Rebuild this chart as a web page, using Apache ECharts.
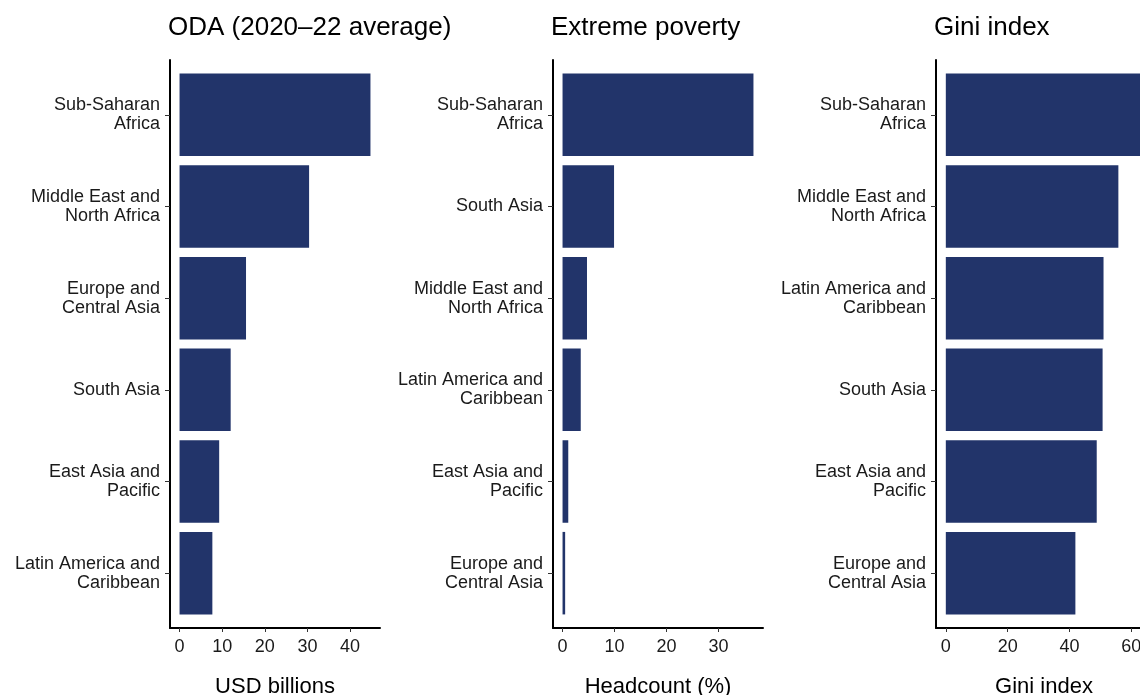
<!DOCTYPE html>
<html>
<head>
<meta charset="utf-8">
<script src="https://cdn.jsdelivr.net/npm/echarts@6/dist/echarts.min.js"></script>
<style>
  html, body { margin: 0; padding: 0; background: #fff; }
  #chart { width: 1140px; height: 695px; }
</style>
</head>
<body>
<div id="chart"></div>
<script>
// data, top to bottom
var odaRegions = ['Sub-Saharan\nAfrica', 'Middle East and\nNorth Africa', 'Europe and\nCentral Asia', 'South Asia', 'East Asia and\nPacific', 'Latin America and\nCaribbean'];
var odaValues = [44.8, 30.4, 15.6, 12.0, 9.3, 7.7];
var odaTicks = [0, 10, 20, 30, 40];

var povertyRegions = ['Sub-Saharan\nAfrica', 'South Asia', 'Middle East and\nNorth Africa', 'Latin America and\nCaribbean', 'East Asia and\nPacific', 'Europe and\nCentral Asia'];
var povertyValues = [36.7, 9.9, 4.7, 3.5, 1.1, 0.5];
var povertyTicks = [0, 10, 20, 30];

var giniRegions = ['Sub-Saharan\nAfrica', 'Middle East and\nNorth Africa', 'Latin America and\nCaribbean', 'South Asia', 'East Asia and\nPacific', 'Europe and\nCentral Asia'];
var giniValues = [63.5, 55.8, 51.0, 50.7, 48.8, 41.9];
var giniTicks = [0, 20, 40, 60];

var panels = [
    {title: 'ODA (2020\u201322 average)', name: 'USD billions', regions: odaRegions, values: odaValues, ticks: odaTicks, left: 170, width: 210},
    {title: 'Extreme poverty', name: 'Headcount (%)', regions: povertyRegions, values: povertyValues, ticks: povertyTicks, left: 553, width: 210},
    {title: 'Gini index', name: 'Gini index', regions: giniRegions, values: giniValues, ticks: giniTicks, left: 936, width: 216}
];

var font = "'Liberation Sans', Arial, Helvetica, sans-serif";
var barColor = '#22346a';

var option = {
    animation: false,
    backgroundColor: '#fff',
    textStyle: {fontFamily: font},
    title: [], grid: [], xAxis: [], yAxis: [], series: []
};

panels.forEach(function (p, i) {
    var max = Math.max.apply(null, p.values);
    var lo = -0.05 * max, hi = 1.05 * max;

    option.title.push({
        text: p.title, left: p.left - 2, top: 15, padding: 0,
        textStyle: {fontSize: 26, fontWeight: 'normal', color: '#000', fontFamily: font}
    });

    // frame grid: axis lines, x ticks, axis name
    option.grid.push({left: p.left, width: p.width, top: 60, bottom: 67, outerBoundsMode: 'none', containLabel: false});
    // bars grid: inset like ggplot's 0.6 discrete expansion
    option.grid.push({left: p.left, width: p.width, top: 69, bottom: 76, outerBoundsMode: 'none', containLabel: false});

    option.xAxis.push({
        type: 'value', gridIndex: 2 * i, min: lo, max: hi,
        axisLine: {show: true, onZero: false, lineStyle: {color: '#000', width: 2}},
        axisTick: {show: true, customValues: p.ticks, length: 4, lineStyle: {color: '#333', width: 1}},
        axisLabel: {customValues: p.ticks, margin: 10, fontSize: 18, color: '#1a1a1a', fontFamily: font},
        splitLine: {show: false},
        name: p.name, nameLocation: 'middle', nameGap: 48,
        nameTextStyle: {fontSize: 22, color: '#000', fontFamily: font}
    });
    option.xAxis.push({
        type: 'value', gridIndex: 2 * i + 1, min: lo, max: hi,
        axisLine: {show: false}, axisTick: {show: false}, axisLabel: {show: false}, splitLine: {show: false}
    });

    option.yAxis.push({
        type: 'value', gridIndex: 2 * i, min: 0, max: 1,
        axisLine: {show: true, onZero: false, lineStyle: {color: '#000', width: 2}},
        axisTick: {show: false}, axisLabel: {show: false}, splitLine: {show: false}
    });
    option.yAxis.push({
        type: 'category', gridIndex: 2 * i + 1, data: p.regions, inverse: true,
        axisLine: {show: false, onZero: false},
        axisTick: {show: true, alignWithLabel: true, length: 5, lineStyle: {color: '#333', width: 1}},
        axisLabel: {margin: 10, fontSize: 18, lineHeight: 19, padding: [2, 0, 0, 0], color: '#1a1a1a', fontFamily: font, align: 'right'},
        splitLine: {show: false}
    });

    option.series.push({
        type: 'bar', xAxisIndex: 2 * i + 1, yAxisIndex: 2 * i + 1,
        data: p.values, barCategoryGap: '10%',
        itemStyle: {color: barColor}
    });
});

var chart = echarts.init(document.getElementById('chart'));
chart.setOption(option);
</script>
</body>
</html>
